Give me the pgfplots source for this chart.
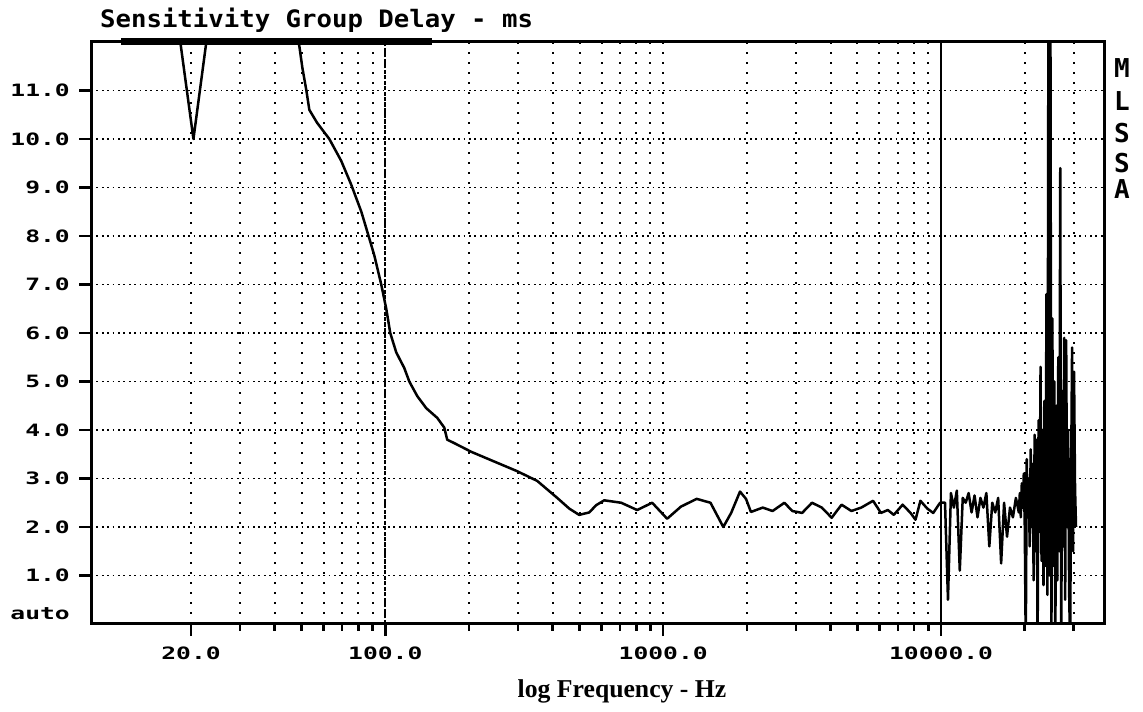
\documentclass[border=0pt]{standalone}
\usepackage{pgfplots}
\pgfplotsset{compat=1.18}
\usepackage{fontspec}
\setmainfont{DejaVu Sans Mono}
\newfontfamily\tickfont[FakeStretch=1.45]{DejaVu Sans Mono}
\newfontfamily\titlefont[FakeStretch=1.07]{DejaVu Sans Mono}
\newfontfamily\labfont{Liberation Serif}
\begin{document}
\begin{tikzpicture}
\useasboundingbox (0,0) rectangle (1143bp,712bp);
\begin{axis}[
  at={(91bp,88bp)}, anchor=south west,
  scale only axis, width=1013bp, height=582bp,
  xmode=log, xmin=8.73, xmax=38590, ymin=0, ymax=12,
  axis line style={line width=3bp},
  xtick={20,100,1000,10000},
  xticklabels={20.0,100.0,1000.0,10000.0},
  minor xtick={30,40,50,60,70,80,90,200,300,400,500,600,700,800,900,2000,3000,4000,5000,6000,7000,8000,9000,20000,30000},
  ytick={1,2,3,4,5,6,7,8,9,10,11},
  yticklabels={1.0,2.0,3.0,4.0,5.0,6.0,7.0,8.0,9.0,10.0,11.0},
  xtick pos=bottom, ytick pos=left,
  tick align=outside,
  major tick length=12bp, minor tick length=7bp,
  every tick/.style={black, line width=2.5bp},
  xmajorgrids, xminorgrids, ymajorgrids,
  x grid style={black, line width=2bp, dash pattern=on 2bp off 8bp},
  y grid style={black, line width=1.8bp, dash pattern=on 1.8bp off 3.6bp},
  xticklabel style={font=\tickfont\bfseries\fontsize{17bp}{17bp}\selectfont, anchor=north, inner sep=0pt, yshift=-11bp},
  yticklabel style={font=\tickfont\bfseries\fontsize{17bp}{17bp}\selectfont, anchor=east, inner sep=0pt, xshift=-9bp},
  clip=true,
]
\draw[black, line width=2.2bp, dash pattern=on 4bp off 1.5bp] (axis cs:100,0) -- (axis cs:100,12);
\draw[black, line width=2.5bp] (axis cs:10000,0) -- (axis cs:10000,12);
\addplot[black, line width=2.5bp, line join=round] coordinates {
(17.8,12.5) (18.3,12.0) (20.4,10.0) (22.7,12.0) (23.3,12.5) (35,14) (47.1,12.5)
(49.1,11.9) (50.3,11.47) (52.0,11.0) (53.3,10.6) (56.9,10.33) (62.9,10.0)
(69.4,9.55) (75.4,9.06) (82.0,8.5) (87.6,7.95) (91.3,7.6) (96.7,7.0)
(100.8,6.5) (104.2,6.0) (109.5,5.6) (117.0,5.28) (122.0,5.0) (130.3,4.7)
(140.4,4.45) (153.8,4.25) (163.0,4.05) (167.1,3.8) (177.0,3.73) (203.9,3.55)
(246.6,3.35) (298.4,3.15) (352.2,2.95) (415.6,2.6) (459.1,2.38) (498.5,2.25)
(541.7,2.3) (574.1,2.45) (613.5,2.55) (706.3,2.5) (806.0,2.35) (913.0,2.5)
(1033.2,2.17) (1158.3,2.42) (1320.0,2.58) (1479.9,2.5) (1645.6,2.0) (1756.3,2.29)
(1890.3,2.73) (1986.3,2.58) (2068.9,2.31) (2281.3,2.4) (2475.4,2.33) (2730.4,2.5)
(2914.5,2.33) (3162.3,2.29) (3431.3,2.5) (3723.3,2.4) (4040.1,2.19) (4383.8,2.46)
(4756.6,2.33) (5161.5,2.4) (5692.6,2.54) (6077.2,2.29) (6434.0,2.35) (6758.6,2.25)
(7274.4,2.46) (7766.2,2.29) (8089.9,2.15) (8426.9,2.54) (8920.4,2.38) (9369.5,2.29)
(9918.6,2.5) (10332,2.5) (10588,0.5) (10850,2.7) (11119,2.4) (11394,2.75)
(11676,1.1) (11966,2.6) (12262,2.5) (12565,2.7) (12877,2.3) (13196,2.65)
(13523,2.2) (13858,2.6) (14201,2.4) (14553,2.7) (14914,1.6) (15283,2.5)
(15662,2.3) (16050,2.6) (16448,1.25) (16855,2.5) (17273,1.8) (17701,2.4)
(18139,2.2) (18588,2.6) (19050,2.3) (19206,2.7) (19364,2.2) (19523,2.9)
(19683,2.4) (19844,3.1) (20007,2.0) (20171,-0.5) (20336,3.4) (20503,2.2)
(20671,3.0) (20840,1.6) (21011,3.6) (21183,2.0) (21357,3.3) (21532,0.9)
(21709,3.9) (21887,1.5) (22066,3.8) (22247,-0.5) (22429,4.2) (22613,1.9)
(22799,5.3) (22986,1.3) (23174,4.0) (23364,0.8) (23556,4.6) (23749,1.2)
(23944,6.8) (24140,0.6) (24338,13) (24538,1.0) (24739,13) (24942,-0.5)
(25146,6.3) (25352,1.2) (25560,5.0) (25770,-0.5) (25981,4.5) (26194,0.9)
(26409,5.5) (26626,1.5) (26844,9.4) (27064,-0.5) (27286,4.8) (27510,1.6)
(27735,5.9) (27963,0.5) (28192,5.85) (28423,2.0) (28656,4.0) (28891,0.7)
(29128,-0.5) (29367,3.0) (29608,5.7) (29851,1.5) (30095,5.2) (30342,2.8)
(30591,2.0)
};
\end{axis}
\draw[line width=7bp] (121bp,670.5bp) -- (432bp,670.5bp);
\node[anchor=west, inner sep=0pt, font=\titlefont\bfseries\fontsize{24bp}{24bp}\selectfont] at (100bp,692bp) {Sensitivity Group Delay - ms};
\node[anchor=base, inner sep=0pt, font=\labfont\bfseries\fontsize{25.7bp}{25.7bp}\selectfont] at (622bp,15bp) {log Frequency - Hz};
\node[anchor=east, inner sep=0pt, font=\tickfont\bfseries\fontsize{17bp}{17bp}\selectfont] at (70bp,98bp) {auto};
\foreach \l/\yy in {M/644, L/611, S/579, S/549, A/523}
  \node[inner sep=0pt, font=\bfseries\fontsize{26bp}{26bp}\selectfont] at (1122bp,\yy bp) {\l};
\end{tikzpicture}
\end{document}
